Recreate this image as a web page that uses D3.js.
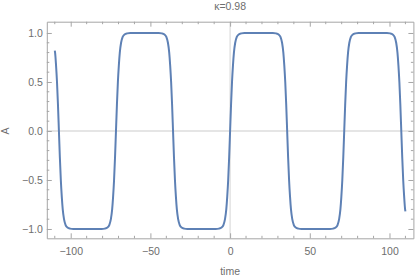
<!DOCTYPE html>
<html><head><meta charset="utf-8">
<script src="https://cdn.jsdelivr.net/npm/d3@7"></script>
<style>body{margin:0;background:#fff}svg{display:block}</style>
</head><body>
<script>
const title = "κ=0.98";
const xLabel = "time";
const yLabel = "A";
const xTicksMajor = [-100, -50, 0, 50, 100];
const yTicksMajor = [-1.0, -0.5, 0.0, 0.5, 1.0];
const time = [-110,-109.8,-109.2,-108.6,-108.0,-107.4,-106.8,-106.2,-105.6,-105.0,-104.2,-103.2,-102.0,-100.4,-98.4,-89.5,-80.6,-78.6,-77.0,-75.8,-74.8,-74.0,-73.4,-72.8,-72.2,-71.6,-71.0,-70.4,-69.8,-69.2,-68.4,-67.4,-66.2,-64.6,-62.6,-53.7,-44.8,-42.8,-41.2,-40.0,-39.0,-38.2,-37.6,-37.0,-36.4,-35.8,-35.2,-34.6,-34.0,-33.4,-32.6,-31.6,-30.4,-28.8,-26.8,-17.9,-9.0,-7.0,-5.4,-4.2,-3.2,-2.4,-1.8,-1.2,-0.6,0,0.6,1.2,1.8,2.4,3.2,4.2,5.4,7.0,9.0,17.9,26.8,28.8,30.4,31.6,32.6,33.4,34.0,34.6,35.2,35.8,36.4,37.0,37.6,38.2,39.0,40.0,41.2,42.8,44.8,53.7,62.6,64.6,66.2,67.4,68.4,69.2,69.8,70.4,71.0,71.6,72.2,72.8,73.4,74.0,74.8,75.8,77.0,78.6,80.6,89.5,98.4,100.4,102.0,103.2,104.2,105.0,105.6,106.2,106.8,107.4,108.0,108.6,109.2,109.8,110];
const amplitude = [0.82,0.8,0.67,0.5,0.27,0,-0.27,-0.5,-0.67,-0.8,-0.9,-0.96,-0.985,-0.996,-1,-1,-1,-0.996,-0.985,-0.96,-0.9,-0.8,-0.67,-0.5,-0.27,0,0.27,0.5,0.67,0.8,0.9,0.96,0.985,0.996,1,1,1,0.996,0.985,0.96,0.9,0.8,0.67,0.5,0.27,0,-0.27,-0.5,-0.67,-0.8,-0.9,-0.96,-0.985,-0.996,-1,-1,-1,-0.996,-0.985,-0.96,-0.9,-0.8,-0.67,-0.5,-0.27,0,0.27,0.5,0.67,0.8,0.9,0.96,0.985,0.996,1,1,1,0.996,0.985,0.96,0.9,0.8,0.67,0.5,0.27,0,-0.27,-0.5,-0.67,-0.8,-0.9,-0.96,-0.985,-0.996,-1,-1,-1,-0.996,-0.985,-0.96,-0.9,-0.8,-0.67,-0.5,-0.27,0,0.27,0.5,0.67,0.8,0.9,0.96,0.985,0.996,1,1,1,0.996,0.985,0.96,0.9,0.8,0.67,0.5,0.27,0,-0.27,-0.5,-0.67,-0.8,-0.82];

const W = 415, H = 277;
const L = 46.8, R = 413.4, T = 21.7, B = 238.3;
const x = d3.scaleLinear().domain([-115, 115]).range([L, R]);
const y = d3.scaleLinear().domain([-1.095, 1.115]).range([B, T]);

const svg = d3.select("body").append("svg").attr("width", W).attr("height", H)
  .style("font-family", "'Liberation Sans', Arial, sans-serif");

const frameCol = "#a6a6a6", labCol = "#6e6e6e";

svg.append("line").attr("x1", L).attr("x2", R).attr("y1", y(0)).attr("y2", y(0))
  .attr("stroke", "#dcdcdc").attr("stroke-width", 1.6);
svg.append("line").attr("x1", x(0)).attr("x2", x(0)).attr("y1", T).attr("y2", B)
  .attr("stroke", "#dcdcdc").attr("stroke-width", 1.2);

svg.append("clipPath").attr("id", "c").append("rect").attr("x", L).attr("y", T).attr("width", R - L).attr("height", B - T);

const data = time.map((t, i) => [t, amplitude[i]]);
svg.append("path").datum(data)
  .attr("clip-path", "url(#c)")
  .attr("fill", "none").attr("stroke", "#5e81b5").attr("stroke-width", 2)
  .attr("stroke-linejoin", "round")
  .attr("d", d3.line().x(d => x(d[0])).y(d => y(d[1])).curve(d3.curveMonotoneX));

const xMinor = d3.range(-110, 111, 10).filter(v => !xTicksMajor.includes(v));
const yMinor = d3.range(-10, 11).map(v => v / 10).filter(v => !yTicksMajor.some(m => Math.abs(m - v) < 1e-9));

function styleAxis(g) {
  g.selectAll("path.domain").attr("stroke", frameCol);
  g.selectAll("line").attr("stroke", frameCol);
  g.selectAll("text").attr("fill", labCol).style("font-size", "10.5px");
}

const gB = svg.append("g").attr("transform", `translate(0,${B})`)
  .call(d3.axisBottom(x).tickValues(xTicksMajor).tickSizeInner(-5).tickSizeOuter(0).tickPadding(9).tickFormat(d3.format("d")));
gB.selectAll("text").text(d => d < 0 ? "\u2212" + Math.abs(d) : d);
gB.selectAll(".minor").data(xMinor).enter().append("line").attr("x1", d => x(d)).attr("x2", d => x(d)).attr("y1", 0).attr("y2", -2.5);
styleAxis(gB);
const gT = svg.append("g").attr("transform", `translate(0,${T})`)
  .call(d3.axisTop(x).tickValues(xTicksMajor).tickSizeInner(-5).tickSizeOuter(0).tickFormat(""));
gT.selectAll(".minor").data(xMinor).enter().append("line").attr("x1", d => x(d)).attr("x2", d => x(d)).attr("y1", 0).attr("y2", 2.5);
styleAxis(gT);
const gL = svg.append("g").attr("transform", `translate(${L},0)`)
  .call(d3.axisLeft(y).tickValues(yTicksMajor).tickSizeInner(-5).tickSizeOuter(0).tickPadding(4).tickFormat(d3.format(".1f")));
gL.selectAll("text").text(d => d < 0 ? "\u2212" + d3.format(".1f")(Math.abs(d)) : d3.format(".1f")(d));
gL.selectAll(".minor").data(yMinor).enter().append("line").attr("x1", 0).attr("x2", 2.5).attr("y1", d => y(d)).attr("y2", d => y(d));
styleAxis(gL);
const gR = svg.append("g").attr("transform", `translate(${R},0)`)
  .call(d3.axisRight(y).tickValues(yTicksMajor).tickSizeInner(-5).tickSizeOuter(0).tickFormat(""));
gR.selectAll(".minor").data(yMinor).enter().append("line").attr("x1", 0).attr("x2", -2.5).attr("y1", d => y(d)).attr("y2", d => y(d));
styleAxis(gR);

svg.append("text").attr("x", (L + R) / 2).attr("y", 10).attr("text-anchor", "middle")
  .attr("fill", labCol).style("font-size", "10.5px").text(title);
svg.append("text").attr("x", x(0)).attr("y", 275).attr("text-anchor", "middle")
  .attr("fill", labCol).style("font-size", "10.5px").text(xLabel);
svg.append("text").attr("transform", `translate(8.5,${y(0)}) rotate(-90)`).attr("text-anchor", "middle")
  .attr("fill", labCol).style("font-size", "10.5px").text(yLabel);
</script>
</body></html>
